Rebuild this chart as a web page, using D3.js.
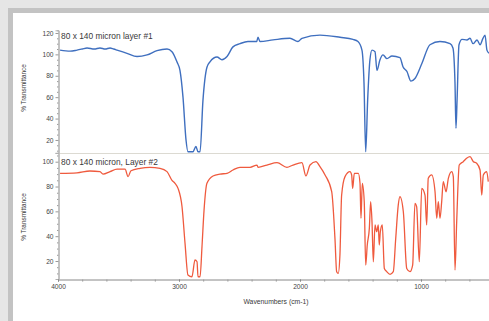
<!DOCTYPE html>
<html><head><meta charset="utf-8">
<script src="https://cdn.jsdelivr.net/npm/d3@7"></script>
<style>
html,body{margin:0;padding:0;background:#e6e6e6;overflow:hidden}
svg{display:block}
text{font-family:"Liberation Sans",Arial,sans-serif;fill:#3a3a3a}
</style></head>
<body>
<svg id="c" width="489" height="321"></svg>
<script>
// ---- data ----
const titles = ["80 x 140 micron layer #1", "80 x 140 micron, Layer #2"];
const xTickLabels = [4000, 3000, 2000, 1000];
const yTicksTop = [20, 40, 60, 80, 100, 120];
const yTicksBottom = [20, 40, 60, 80, 100];

const wave1 = [3983,3900,3843,3800,3760,3700,3653,3610,3570,3540,3512,3430,3347,3264,3182,3099,3058,3017,2992,2967,2942,2926,2884,2860,2843,2826,2802,2769,2744,2686,2645,2603,2554,2496,2430,2358,2347,2331,2223,2083,2017,1984,1835,1669,1562,1521,1488,1471,1457,1441,1422,1405,1380,1364,1339,1314,1281,1240,1174,1149,1116,1083,1050,992,926,843,760,736,719,711,702,686,661,620,595,570,537,512,488,471,455,438];
const trans1 = [104,103,104,105,106,105,106,105,106,105,104,101,98,99.5,103.5,105,102.5,93,85,60,20,9,9,14,9,9,57,88,93,97.5,95,98,107,110,112,112,116,112,113.5,115,112,115,118,116,114,112,104,73,9,57,95,104,102.5,85,95,99.5,96,98.5,97,88.5,84,75,77.5,91.7,109,112,110,106,73,31,57,109,114,113.5,115,110,113.5,109,115,118,104,101];

const wave2 = [3983,3843,3736,3653,3628,3570,3512,3446,3421,3397,3322,3240,3157,3099,3058,3033,3008,2975,2950,2926,2893,2868,2851,2843,2826,2810,2793,2769,2719,2661,2603,2554,2496,2413,2355,2347,2273,2190,2108,2058,1984,1951,1917,1868,1835,1793,1738,1711,1697,1684,1670,1656,1628,1587,1573,1565,1551,1518,1504,1496,1485,1469,1457,1444,1427,1416,1405,1394,1380,1366,1353,1345,1336,1320,1303,1283,1256,1229,1209,1188,1174,1146,1118,1091,1069,1050,1036,1014,994,967,953,940,912,884,870,857,843,829,816,793,774,746,733,719,705,684,651,623,595,567,540,512,498,485,457,444];
const trans2 = [90.6,91,92.5,92,90,92,94,94,88,92.7,94.7,95.5,94.7,92,85,82.6,78.5,63.7,34,8.7,7.3,20.8,19.4,7.3,7.3,31.5,61,82.6,88.5,90,90.6,93.3,95.5,95.5,97.3,95.5,97.3,99.2,95.5,97.3,99.2,88.5,97.3,100,96,89.3,75.8,38,11.4,10,24.8,73,88,92,89.3,78.5,90.6,90.6,82.6,54.4,82.6,67.8,16.7,32.9,46.3,67.8,51.7,19.4,49,43.6,49,32.9,43.6,49,14,11.4,9.3,11.4,38,65,71.8,59.7,14,11.4,16.7,66.5,63.7,19.4,78.5,73,49,86.6,89.3,75.8,54.4,67.8,54.4,67.8,83.9,75.8,86.6,92,88,12.7,51.7,97.3,100,102.7,104,100,98.7,93.3,73,89.3,92,83.9];

// ---- layout ----
const svg = d3.select("#c");
svg.append("rect").attr("x",0).attr("y",0).attr("width",489).attr("height",321).attr("fill","#e6e6e6");
svg.append("rect").attr("x",8).attr("y",8).attr("width",490).attr("height",330).attr("fill","#c3c3c3");
svg.append("rect").attr("x",13).attr("y",13).attr("width",490).attr("height",330).attr("fill","#ffffff");

const x = d3.scaleLinear().domain([4000, 400]).range([58, 493.6]);
const yTop = d3.scaleLinear().domain([8, 122.5]).range([152.8, 30.3]);
const yBot = d3.scaleLinear().domain([5.5, 107]).range([279, 153]);

svg.append("defs").append("clipPath").attr("id","clip")
  .append("rect").attr("x",58).attr("y",13).attr("width",440).attr("height",270);

// separator
svg.append("line").attr("x1",58).attr("x2",489).attr("y1",153.5).attr("y2",153.5)
  .attr("stroke","#dcdad2").attr("stroke-width",1);

function yAxis(scale, ticks, minorStep) {
  const d = scale.domain();
  const g = svg.append("g").attr("transform","translate(58.5,0)");
  const minor = d3.range(Math.ceil(d[0]/minorStep)*minorStep, d[1], minorStep).filter(v => !ticks.includes(v));
  g.call(d3.axisLeft(scale).tickValues(minor).tickSize(1.5).tickFormat(""));
  g.call(gg => gg.selectAll(".tick line").attr("stroke","#aaa"));
  const g2 = svg.append("g").attr("transform","translate(58.5,0)");
  g2.call(d3.axisLeft(scale).tickValues(ticks).tickSize(3).tickPadding(2));
  [g, g2].forEach(a => {
    a.select(".domain").attr("stroke","#b0b0b0");
    a.selectAll(".tick line").attr("stroke","#999");
    a.selectAll("text").style("font-size","6.6px").style("fill","#444")
      .style("font-family","'Liberation Sans',Arial,sans-serif");
  });
}
yAxis(yTop, yTicksTop, 5);
yAxis(yBot, yTicksBottom, 5);

// x axis
const gxMinor = svg.append("g").attr("transform","translate(0,279.5)")
  .call(d3.axisBottom(x).tickValues(d3.range(4000, 399, -200)).tickSize(2).tickFormat(""));
gxMinor.select(".domain").attr("stroke","#b0b0b0");
gxMinor.selectAll(".tick line").attr("stroke","#888");
const gx = svg.append("g").attr("transform","translate(0,279.5)")
  .call(d3.axisBottom(x).tickValues(xTickLabels).tickSize(2).tickPadding(3).tickFormat(d3.format("d")));
gx.select(".domain").attr("stroke","#b0b0b0");
gx.selectAll(".tick line").attr("stroke","#888");
gx.selectAll("text").style("font-size","6.6px").style("fill","#444")
  .style("font-family","'Liberation Sans',Arial,sans-serif");

// axis titles
svg.append("text").attr("x",276).attr("y",304).attr("text-anchor","middle")
  .style("font-size","6.8px").text("Wavenumbers (cm-1)");
[[yTop, 88],[yBot, 217]].forEach(([s, cy]) => {
  svg.append("text").attr("transform",`translate(26,${cy}) rotate(-90)`).attr("text-anchor","middle")
    .style("font-size","6.4px").text("% Transmittance");
});

// spectra
const line1 = d3.line().x((d,i) => x(wave1[i])).y((d,i) => yTop(trans1[i])).curve(d3.curveMonotoneX);
const line2 = d3.line().x((d,i) => x(wave2[i])).y((d,i) => yBot(trans2[i])).curve(d3.curveMonotoneX);
svg.append("path").datum(wave1).attr("d", line1).attr("clip-path","url(#clip)")
  .attr("fill","none").attr("stroke","#3f6fbf").attr("stroke-width",1.4).attr("stroke-linejoin","round");
svg.append("path").datum(wave2).attr("d", line2).attr("clip-path","url(#clip)")
  .attr("fill","none").attr("stroke","#ef5a3e").attr("stroke-width",1.3).attr("stroke-linejoin","round");

// panel titles
svg.append("text").attr("x",61).attr("y",39).style("font-size","8.4px").text(titles[0]);
svg.append("text").attr("x",61).attr("y",165).style("font-size","8.4px").text(titles[1]);
</script>
</body></html>
